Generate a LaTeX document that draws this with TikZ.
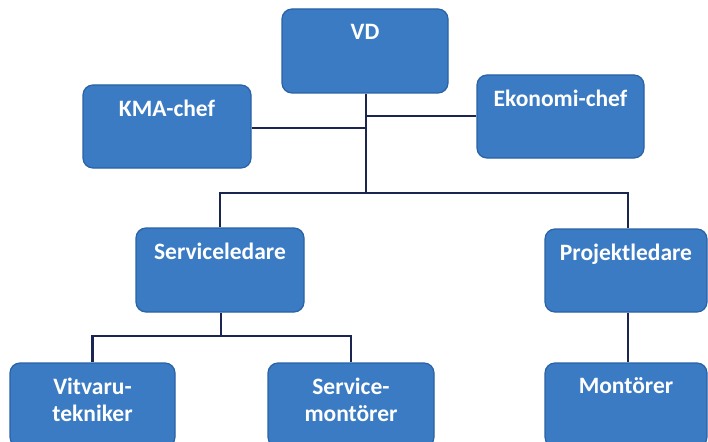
\documentclass[tikz,border=0pt]{standalone}
\usepackage{fontspec}
\setmainfont{Carlito}
\definecolor{boxfill}{HTML}{3A7BC4}
\definecolor{boxborder}{HTML}{2A62A6}
\definecolor{linkcol}{HTML}{1A2550}
\newcommand{\bxtext}[3]{\parbox[c][#2][t]{#1}{\centering\vspace{15pt}#3}}
\tikzset{
  orgbox/.style={draw=boxborder, line width=1.2pt, fill=boxfill, rounded corners=10pt,
    inner sep=0pt, text=white, font=\bfseries\fontsize{23.5}{27}\selectfont},
  link/.style={draw=linkcol, line width=2.4pt}
}
\begin{document}
\begin{tikzpicture}[x=1pt,y=-1pt]
\useasboundingbox (0,0) rectangle (708,441);
\coordinate (j1) at (366,193);
\coordinate (j2) at (221,336);
% boxes
\node[orgbox] (vd) at (365,51) {\bxtext{166pt}{84pt}{VD}};
\node[orgbox] (kma) at (167,126.5) {\bxtext{168pt}{83pt}{KMA-chef}};
\node[orgbox] (eko) at (560.5,116.5) {\bxtext{167pt}{83pt}{Ekonomi-chef}};
\node[orgbox] (sl) at (220,270) {\bxtext{168pt}{84pt}{Serviceledare}};
\node[orgbox] (pl) at (626,270.5) {\bxtext{162pt}{83pt}{Projektledare}};
\node[orgbox] (vt) at (92.5,405) {\bxtext{165pt}{84pt}{Vitvaru-\\tekniker}};
\node[orgbox] (sm) at (351,405) {\bxtext{166pt}{84pt}{Service-\\montörer}};
\node[orgbox] (mo) at (626,405) {\bxtext{162pt}{84pt}{Montörer}};
% connectors
\draw[link] (vd.south -| j1) -- (j1);
\draw[link] (kma.east |- 0,128) -- (366,128);
\draw[link] (eko.west |- 0,116) -- (366,116);
\draw[link] (sl.north) |- (j1) -| (pl.north -| 628,0);
\draw[link] (sl.south -| j2) -- (j2);
\draw[link] (vt.north) |- (j2) -| (sm.north);
\draw[link] (pl.south -| 628,0) -- (mo.north -| 628,0);
\end{tikzpicture}
\end{document}
